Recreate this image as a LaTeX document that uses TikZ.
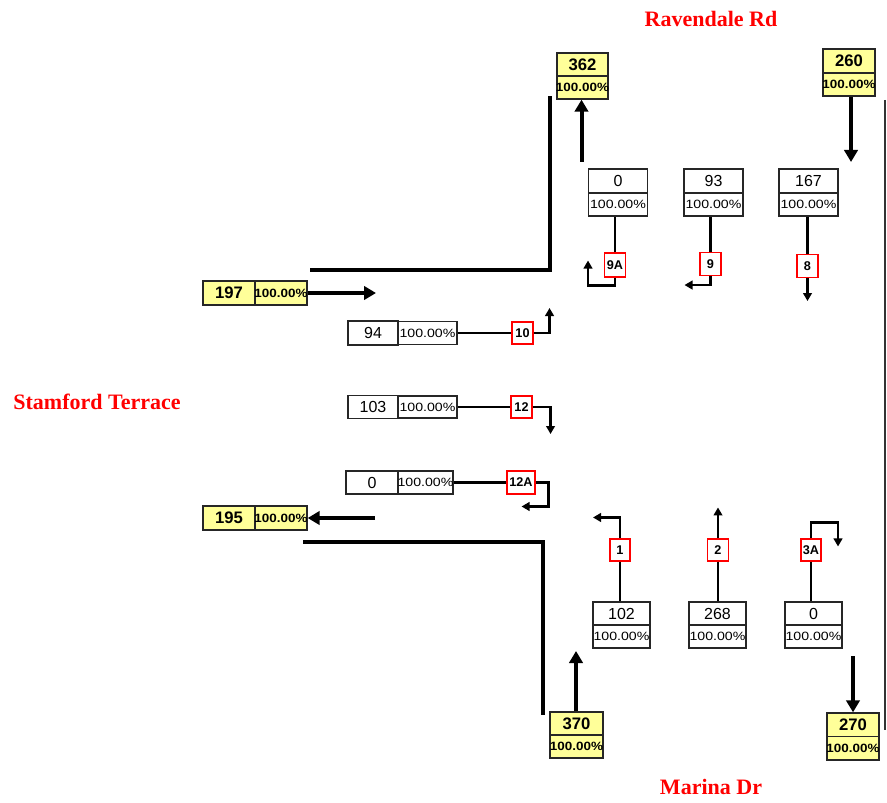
\documentclass[tikz,border=0pt]{standalone}
\usepackage{fontspec}
\usepackage{graphicx}
\setmainfont{Liberation Sans}
\setsansfont{Liberation Sans}
\newfontfamily\pctfam{Liberation Sans}
\newfontfamily\titlefont{Liberation Serif}
\usetikzlibrary{arrows.meta}
\definecolor{boxyellow}{RGB}{255,255,153}
\newcommand\pctlabel{\makebox[0pt]{\scalebox{1.18}[1]{\pctfam\fontsize{9}{10}\selectfont 100.00\%}}}
\newcommand\pctlabelb{\makebox[0pt]{\scalebox{1.12}[1]{\pctfam\fontsize{9}{10}\selectfont\bfseries 100.00\%}}}
\begin{document}
\begin{tikzpicture}[x=0.75pt,y=-0.75pt,
  sz/.style 2 args={minimum width=#1*0.75pt, minimum height=#2*0.75pt},
  cell/.style={draw=black!85, line width=1pt, inner sep=0pt, fill=white},
  ycell/.style={cell, fill=boxyellow},
  valtxt/.style={font=\pctfam\fontsize{12}{13}\selectfont},
  valbold/.style={font=\pctfam\fontsize{12.5}{13}\selectfont\bfseries},
  redbox/.style={draw=red, line width=0.8pt, fill=white, inner sep=0pt,
    font=\pctfam\fontsize{9.5}{10}\selectfont\bfseries},
  flow/.style={line width=2.1pt, line join=miter},
  flowarr/.style={flow, -{Triangle[length=6pt,width=6.5pt]}},
  road/.style={line width=3pt, line join=miter},
  roadarr/.style={road, -{Triangle[length=9pt,width=10pt]}},
  title/.style={text=red, font=\titlefont\fontsize{16.5}{18}\selectfont\bfseries}
]
\useasboundingbox (0,0) rectangle (887,802);

% titles
\node[title] (tRav) at (711,19) {Ravendale Rd};
\node[title] (tSta) at (97,402) {Stamford Terrace};
\node[title] (tMar) at (711,787) {Marina Dr};

% yellow boxes (vertical)
\node[ycell, sz={51}{23}, valbold] (y362v) at (582.5,64.5) {362};
\node[ycell, sz={51}{23}] (y362p) at (582.5,87.5) {\pctlabelb};
\node[ycell, sz={52}{24}, valbold] (y260v) at (849,61) {260};
\node[ycell, sz={52}{23}] (y260p) at (849,84.5) {\pctlabelb};
\node[ycell, sz={53}{23}, valbold] (y370v) at (576.5,723.5) {370};
\node[ycell, sz={53}{23}] (y370p) at (576.5,746.5) {\pctlabelb};
\node[ycell, sz={52}{23.5}, valbold] (y270v) at (853,724.75) {270};
\node[ycell, sz={52}{23.5}] (y270p) at (853,748.25) {\pctlabelb};

% yellow boxes (horizontal)
\node[ycell, sz={52}{24}, valbold] (y197v) at (229,293) {197};
\node[ycell, sz={52}{24}] (y197p) at (281,293) {\pctlabelb};
\node[ycell, sz={52}{24}, valbold] (y195v) at (229,518) {195};
\node[ycell, sz={52}{24}] (y195p) at (281,518) {\pctlabelb};

% top white boxes
\node[cell, sz={59}{24}, valtxt] (t0v) at (618,181) {0};
\node[cell, sz={59}{23}] (t0p) at (618,204.5) {\pctlabel};
\node[cell, sz={59}{24}, valtxt] (t93v) at (713.5,181) {93};
\node[cell, sz={59}{23}] (t93p) at (713.5,204.5) {\pctlabel};
\node[cell, sz={59}{24}, valtxt] (t167v) at (808.5,181) {167};
\node[cell, sz={59}{23}] (t167p) at (808.5,204.5) {\pctlabel};

% bottom white boxes
\node[cell, sz={57}{23}, valtxt] (b102v) at (621.5,613.5) {102};
\node[cell, sz={57}{23}] (b102p) at (621.5,636.5) {\pctlabel};
\node[cell, sz={57}{23}, valtxt] (b268v) at (717.5,613.5) {268};
\node[cell, sz={57}{23}] (b268p) at (717.5,636.5) {\pctlabel};
\node[cell, sz={57}{23}, valtxt] (b0v) at (813.5,613.5) {0};
\node[cell, sz={57}{23}] (b0p) at (813.5,636.5) {\pctlabel};

% left white boxes (horizontal)
\node[cell, sz={50}{24}, valtxt] (h94v) at (373,333) {94};
\node[cell, sz={59}{23}] (h94p) at (427.5,333) {\pctlabel};
\node[cell, sz={50}{23}, valtxt] (h103v) at (373,407) {103};
\node[cell, sz={59}{22}] (h103p) at (427.5,407) {\pctlabel};
\node[cell, sz={52}{23}, valtxt] (h0v) at (372,482.5) {0};
\node[cell, sz={55}{23}] (h0p) at (425.5,482.5) {\pctlabel};

% red movement labels
\node[redbox, sz={21}{24}] (r9A) at (615,265) {9A};
\node[redbox, sz={21}{23}] (r9) at (710.5,264) {9};
\node[redbox, sz={21}{23}] (r8) at (807.5,266) {8};
\node[redbox, sz={21}{22}] (r10) at (522.5,333) {10};
\node[redbox, sz={21}{22}] (r12) at (521.5,407) {12};
\node[redbox, sz={28}{23}] (r12A) at (521,482.5) {12A};
\node[redbox, sz={20}{22}] (r1) at (620,550) {1};
\node[redbox, sz={21}{22}] (r2) at (718,550) {2};
\node[redbox, sz={20}{22}] (r3A) at (811,550) {3A};

% thin movement connectors
\draw[flow] (r9A.north) -- (r9A.north |- t0p.south);
\draw[flowarr] (r9A.south) -- ++(0,8) -- ++(-27,0) -- ++(0,-25);
\draw[flow] (r9.north) -- (r9.north |- t93p.south);
\draw[flowarr] (r9.south) -- ++(0,9) -- ++(-26,0);
\draw[flow] (r8.north) -- (r8.north |- t167p.south);
\draw[flowarr] (r8.south) -- ++(0,23);
\draw[flow] (h94p.east) -- (r10.west);
\draw[flowarr] (r10.east) -- ++(16,0) -- ++(0,-25);
\draw[flow] (h103p.east) -- (r12.west);
\draw[flowarr] (r12.east) -- ++(18,0) -- ++(0,27);
\draw[flow] (h0p.east) -- (r12A.west);
\draw[flowarr] (r12A.east) -- ++(13,0) -- ++(0,24) -- ++(-27,0);
\draw[flow] (r1.south) -- (r1.south |- b102v.north);
\draw[flowarr] (r1.north) -- ++(0,-21) -- ++(-27,0);
\draw[flow] (r2.south) -- (r2.south |- b268v.north);
\draw[flowarr] (r2.north) -- ++(0,-31);
\draw[flow] (r3A.south) -- (r3A.south |- b0v.north);
\draw[flowarr] (r3A.north) -- ++(0,-16) -- ++(27,0) -- ++(0,24);

% road edges and approach arrows
\coordinate (nwA) at (310,270);
\coordinate (nwB) at (550,270);
\coordinate (nwC) at (550,96);
\draw[road] (nwA) -- (nwB) -- (nwC);
\coordinate (swA) at (303,542);
\coordinate (swB) at (543,542);
\coordinate (swC) at (543,715);
\draw[road] (swA) -- (swB) -- (swC);
\coordinate (a362) at (581.5,162);
\draw[roadarr] (a362) -- (a362 |- y362p.south);
\coordinate (a260) at (851,162);
\draw[roadarr] (a260 |- y260p.south) -- (a260);
\coordinate (a197) at (376,293);
\draw[roadarr] (y197p.east) -- (a197);
\coordinate (a195) at (375,518);
\draw[roadarr] (a195) -- (y195p.east);
\coordinate (a370) at (576,651);
\draw[roadarr] (a370 |- y370v.north) -- (a370);
\coordinate (a270) at (853,656);
\draw[roadarr] (a270) -- (a270 |- y270v.north);

% right border line
\coordinate (eTop) at (885,100);
\coordinate (eBot) at (885,730);
\draw[line width=0.8pt, black!80] (eTop) -- (eBot);
\end{tikzpicture}
\end{document}
